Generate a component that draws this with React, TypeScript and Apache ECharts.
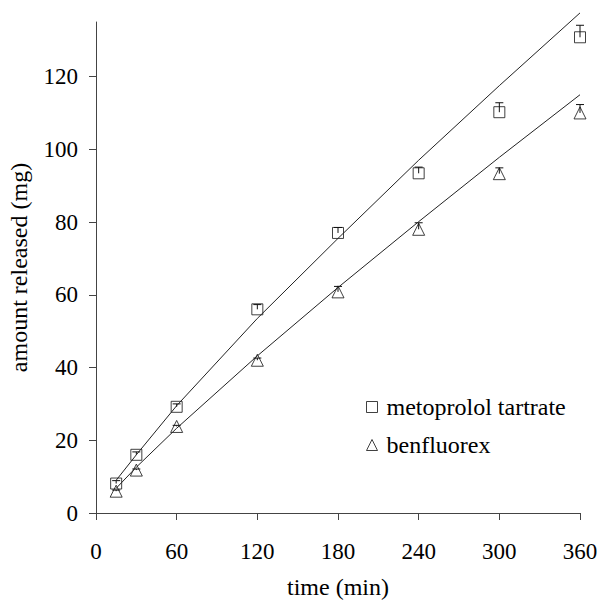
import React, { useEffect, useRef } from "react";
import * as echarts from "echarts";

const timeVals = [15, 30, 60, 120, 180, 240, 300, 360];
const metoprolol = [8.1, 16, 29.2, 56, 77, 93.4, 110.2, 130.8];
const metoErr = [0.8, 0.8, 0.8, 1.3, 1.5, 1.7, 2.6, 3.3];
const benfluorex = [6, 11.8, 23.8, 42, 60.8, 78, 93.3, 110];
const benfErr = [0.3, 0.3, 0.3, 0.6, 1.5, 1.8, 1.6, 2.3];
const metoFit = [9, 16, 29.5, 53.5, 75.5, 97, 117.5, 137.5];
const benfFit = [6.8, 12.6, 23.3, 43.2, 62, 80.1, 97.8, 115];
const yTicks = [0, 20, 40, 60, 80, 100, 120];
const xTicks = [0, 60, 120, 180, 240, 300, 360];

const FONT = "Liberation Serif";

export default function App() {
  const ref = useRef<HTMLDivElement>(null);
  useEffect(() => {
    if (!ref.current) return;
    const chart = echarts.init(ref.current, null, { renderer: "svg" });
    const pts = (ys: number[]) => timeVals.map((t, i) => [t, ys[i]]);
    const errPts = (ys: number[], es: number[]) => timeVals.map((t, i) => [t, ys[i], es[i]]);
    const errRender = (params: any, api: any) => {
      const x = api.value(0);
      const y = api.value(1);
      const e = api.value(2);
      const p0 = api.coord([x, y]);
      const p1 = api.coord([x, y + e]);
      const st = { stroke: "#111", lineWidth: 1 };
      return {
        type: "group",
        children: [
          { type: "line", shape: { x1: p0[0], y1: p0[1], x2: p1[0], y2: p1[1] }, style: st },
          { type: "line", shape: { x1: p1[0] - 4, y1: p1[1], x2: p1[0] + 4, y2: p1[1] }, style: st },
        ],
      };
    };
    const markerStyle = { color: "transparent", borderColor: "#111", borderWidth: 1 };
    chart.setOption({
      animation: false,
      backgroundColor: "#fff",
      textStyle: { fontFamily: FONT },
      grid: { left: 96, right: 21, top: 22, bottom: 87, containLabel: false, outerBoundsMode: "none" },
      legend: {
        orient: "vertical",
        left: 361,
        top: 390,
        itemWidth: 11,
        itemHeight: 11,
        itemGap: 14,
        data: [
          { name: "metoprolol tartrate", icon: "rect" },
          { name: "benfluorex", icon: "triangle" },
        ],
        itemStyle: markerStyle,
        textStyle: { fontFamily: FONT, fontSize: 24, color: "#000", lineHeight: 24, padding: [0, 0, 0, 4] },
      },
      xAxis: {
        type: "value",
        min: 0,
        max: 360,
        interval: 60,
        name: "time (min)",
        nameLocation: "middle",
        nameGap: 62,
        nameTextStyle: { fontFamily: FONT, fontSize: 24, color: "#000" },
        axisLine: { show: true, lineStyle: { color: "#444", width: 1 } },
        axisTick: { show: true, length: 7, lineStyle: { color: "#444" }, customValues: xTicks },
        axisLabel: { fontFamily: FONT, fontSize: 23, color: "#000", margin: 27, customValues: xTicks },
        splitLine: { show: false },
      },
      yAxis: {
        type: "value",
        min: 0,
        max: 135,
        name: "amount released (mg)",
        nameLocation: "middle",
        nameGap: 65,
        nameTextStyle: { fontFamily: FONT, fontSize: 24, color: "#000" },
        axisLine: { show: true, lineStyle: { color: "#444", width: 1 } },
        axisTick: { show: true, length: 7, lineStyle: { color: "#444" }, customValues: yTicks },
        axisLabel: { fontFamily: FONT, fontSize: 23, color: "#000", margin: 18, customValues: yTicks },
        splitLine: { show: false },
      },
      series: [
        {
          name: "metoprolol fit",
          type: "line",
          data: pts(metoFit),
          showSymbol: false,
          symbol: "none",
          clip: false,
          lineStyle: { color: "#222", width: 1 },
          silent: true,
        },
        {
          name: "benfluorex fit",
          type: "line",
          data: pts(benfFit),
          showSymbol: false,
          symbol: "none",
          clip: false,
          lineStyle: { color: "#222", width: 1 },
          silent: true,
        },
        {
          name: "metoprolol tartrate",
          type: "scatter",
          data: pts(metoprolol),
          symbol: "rect",
          symbolSize: 11,
          itemStyle: markerStyle,
        },
        {
          name: "benfluorex",
          type: "scatter",
          data: pts(benfluorex),
          symbol: "triangle",
          symbolSize: [12, 12],
          itemStyle: markerStyle,
        },
        {
          name: "metoprolol err",
          type: "custom",
          data: errPts(metoprolol, metoErr),
          renderItem: errRender,
          encode: { x: 0, y: 1 },
          silent: true,
        },
        {
          name: "benfluorex err",
          type: "custom",
          data: errPts(benfluorex, benfErr),
          renderItem: errRender,
          encode: { x: 0, y: 1 },
          silent: true,
        },
      ],
    });
    return () => chart.dispose();
  }, []);
  return <div ref={ref} style={{ width: 601, height: 600, position: "absolute", left: 0, top: 0 }} />;
}
